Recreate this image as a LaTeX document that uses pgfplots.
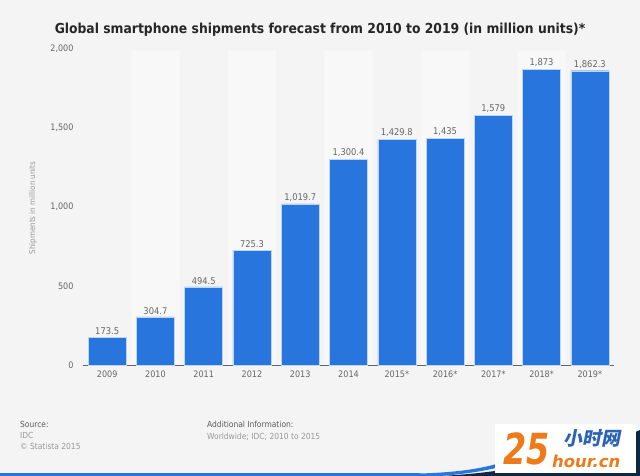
\documentclass[border=0pt]{standalone}
\usepackage{pgfplots}
\pgfplotsset{compat=1.18}
\usepackage{fontspec}
\setmainfont{DejaVu Sans Condensed}
\newfontfamily\logofont{DejaVu Sans}
\newfontfamily\cjk{Noto Sans CJK SC}
\definecolor{bg}{HTML}{F4F4F4}
\definecolor{band}{HTML}{F8F8F8}
\definecolor{barblue}{HTML}{2876DD}
\definecolor{txtgray}{HTML}{666666}
\definecolor{lightgray}{HTML}{999999}
\definecolor{wmorange}{HTML}{EE7A1A}
\definecolor{wmblue}{HTML}{2A63B8}
\definecolor{navy}{HTML}{0F2740}
\begin{document}
\begin{tikzpicture}[x=1bp,y=1bp]
\fill[bg] (0,0) rectangle (640,476);
\node[font=\fontsize{13.8}{15}\selectfont\bfseries, text=black!85] at (320,446) {Global smartphone shipments forecast from 2010 to 2019 (in million units)*};
\begin{axis}[
  at={(83bp,111bp)}, anchor=south west,
  scale only axis, width=531bp, height=316bp,
  xmin=-0.5, xmax=10.5, ymin=0, ymax=2000,
  axis x line*=bottom, axis y line=none,
  x axis line style={draw=txtgray, line width=0.8pt},
  xtick={0,...,10}, xticklabels={2009,2010,2011,2012,2013,2014,2015*,2016*,2017*,2018*,2019*},
  xtick style={draw=none},
  ytick={0,500,1000,1500,2000},
  ymajorgrids, grid style={densely dotted, draw=black!18, line width=0.4pt},
  ticklabel style={font=\fontsize{9}{10}\selectfont, text=txtgray},
  xticklabel style={yshift=-2bp},
  /pgf/number format/assume math mode=true,
  /pgf/number format/1000 sep={,},
  clip=false,
]
\addplot[ybar, bar width=1, bar shift=0pt, fill=band, draw=none, forget plot] coordinates {(1,1990) (3,1990) (5,1990) (7,1990) (9,1990)};
\addplot[ybar, bar width=38bp, bar shift=0pt, fill=barblue, draw=white!70!barblue, line width=0.4pt,
  nodes near coords, nodes near coords style={font=\fontsize{9.3}{10}\selectfont, text=txtgray, yshift=-1bp},
  /pgf/number format/.cd, fixed, precision=1, 1000 sep={,}, assume math mode=true]
 coordinates {(0,173.5) (1,304.7) (2,494.5) (3,725.3) (4,1019.7) (5,1300.4) (6,1429.8) (7,1435) (8,1579) (9,1873) (10,1862.3)};
\end{axis}
\begin{axis}[
  at={(83bp,111bp)}, anchor=south west,
  scale only axis, width=531bp, height=316bp,
  xmin=-0.5, xmax=10.5, ymin=0, ymax=2000,
  axis x line=none, axis y line*=left, y axis line style={draw=none},
  ytick={0,500,1000,1500,2000}, ytick style={draw=none},
  yticklabel style={font=\fontsize{9}{10}\selectfont, text=txtgray, xshift=-6bp},
  /pgf/number format/assume math mode=true,
  /pgf/number format/1000 sep={,},
]
\addplot[draw=none] coordinates {(0,0)};
\end{axis}
\node[rotate=90, font=\fontsize{8}{9}\selectfont, text=lightgray] at (33,268) {Shipments in million units};
\begin{scope}[every node/.style={anchor=base west, inner sep=0pt, font=\fontsize{8.4}{9}\selectfont}]
\node[text=txtgray!90!black] at (20,48) {Source:};
\node[text=lightgray] at (20,37) {IDC};
\node[text=lightgray] at (20,26) {\textcopyright\ Statista 2015};
\node[text=txtgray!90!black] at (207,48) {Additional Information:};
\node[text=lightgray] at (207,36) {Worldwide; IDC; 2010 to 2015};
\end{scope}
% bottom line and swoosh
\fill[navy] (440,0) .. controls (520,4) and (580,20) .. (640,46) -- (640,0) -- cycle;
\fill[barblue] (0,0) rectangle (420,2.5);
\fill[barblue] (420,2.5) .. controls (455,3.5) and (480,7) .. (500,13) -- (500,9) .. controls (480,4) and (460,1.5) .. (440,0) -- (420,0) -- cycle;
\fill[white] (495,3) rectangle (636,52);
\node[font=\logofont\fontsize{43}{43}\selectfont\bfseries\itshape, text=wmorange, anchor=base west, inner sep=0pt, xscale=0.78] at (503,11) {25};
\node[font=\cjk\fontsize{19}{19}\selectfont\bfseries, text=wmblue, anchor=base, inner sep=0pt, xslant=0.2] at (592,30) {小时网};
\node[font=\logofont\fontsize{16.5}{16.5}\selectfont\bfseries\itshape, text=wmorange, anchor=base west, inner sep=0pt] at (552,8) {hour.cn};
\pgfresetboundingbox
\useasboundingbox (0,0) rectangle (640,476);
\end{tikzpicture}
\end{document}
